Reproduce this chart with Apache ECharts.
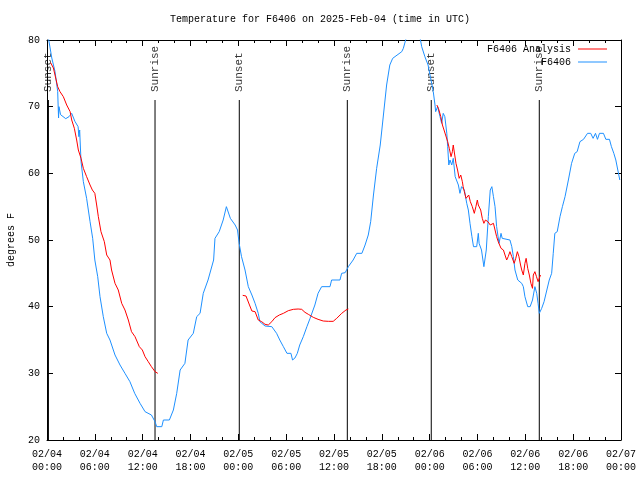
<!DOCTYPE html>
<html>
<head>
<meta charset="utf-8">
<script src="https://cdn.jsdelivr.net/npm/echarts@6/dist/echarts.min.js"></script>
<style>html,body{margin:0;padding:0;background:#fff;}#c{width:640px;height:480px;}</style>
</head>
<body>
<div id="c"></div>
<script>
// Hours since 2025-02-04 00:00 UTC
var obsHours = [0.15,0.6,1.0,1.34,1.45,1.5,1.7,2.35,2.76,3.1,3.5,3.9,4.0,4.1,4.15,4.27,4.56,4.97,5.4,5.73,6.0,6.36,6.65,7.06,7.49,7.9,8.53,9.16,9.78,10.4,11.0,11.67,12.3,13.1,13.55,13.76,14.4,14.6,15.35,15.85,16.27,16.7,17.3,17.7,18.35,18.78,19.2,19.6,20.2,20.9,21.07,21.6,22.1,22.5,22.7,23.0,23.6,23.9,24.1,24.4,24.84,25.25,25.7,26.1,26.5,26.7,27.35,28.2,28.8,29.2,29.65,30.1,30.6,30.8,31.1,31.4,31.7,32.15,32.6,33.0,33.6,34.0,34.45,35.5,35.7,36.75,36.96,37.4,37.8,38.4,38.85,39.5,39.9,40.3,40.6,40.95,41.35,41.8,42.2,42.6,43.0,43.36,44.5,44.7,45.1,45.6,46.3,46.8,47.0,47.4,47.8,48.25,48.45,48.67,48.75,49.0,49.3,49.5,49.7,49.9,50.15,50.26,50.4,50.55,50.77,50.96,51.2,51.6,51.8,52.0,52.35,52.65,52.85,53.06,53.3,53.5,53.9,54.1,54.2,54.5,54.8,55.1,55.36,55.6,55.8,56.0,56.2,56.4,56.7,56.95,57.1,58.07,58.3,58.5,58.7,59.05,59.55,59.75,59.95,60.3,60.6,60.9,61.2,61.43,61.6,61.75,61.85,62.05,62.35,62.7,63.0,63.3,63.5,63.7,64.0,64.35,64.65,64.98,65.4,65.8,66.2,66.5,66.85,67.3,67.8,68.2,68.5,68.8,69.05,69.3,69.8,70.1,70.55,70.8,71.1,71.35,71.6,71.85];
var obsTemps = [80.5,77.3,75.3,72.3,68.3,70,68.8,68.2,68.5,69,67.8,67,65.5,66.5,65,61.75,58.75,56.25,52.75,50.25,47,44.5,41.5,38.5,36,35,32.75,31.25,30,28.75,27,25.5,24.25,23.75,22.75,22,22,23,23,24.5,27,30.5,31.5,35,36,38.5,39,42,44,47,50.25,51.25,53,55,55,53.25,52.25,51.5,49.5,47.5,45.5,43,41.75,40.5,39,37.75,37.1,37,36,35,34,33,33,32,32.3,33,34.25,35.5,37,38.25,40.25,42,43,43,44,44,45,45.1,46,47,48,48,49.25,50.75,52.75,56.75,60.75,64.25,68.75,73.25,76.25,77.25,78.25,78.75,80.5,81.5,81.5,80.3,79,77.5,76.25,73.5,72.25,70.25,69.25,70,68.5,67.5,69,68.5,66,64,61.25,62,61.25,62.25,59.5,58.25,57,58,57.5,55.5,54.5,52.5,50.5,49,49,51,49.5,48.5,46,48.5,53.5,57.5,58,56.5,55,52,49.5,51,50.25,50,49,47.5,45.5,44,43.5,43,41.5,40,40,41,43,42,40.5,39,38.7,39.75,40.75,42.5,44,45,48,51,51.25,53.5,55,56.5,59,61.5,63,63.25,64.75,65.1,66,66,65.25,66,65.1,66,66,65.1,65.1,64,63,62,60.5,59];

// Analysis series (null = gap)
var anaHours = [0.45,0.8,1.0,1.34,1.63,2.05,2.47,2.9,3.1,3.43,3.72,3.93,4.27,4.56,4.97,5.4,5.69,6.0,6.23,6.44,6.77,7.19,7.49,7.9,8.1,8.53,8.94,9.37,9.78,10.2,10.6,11.04,11.58,11.96,12.3,12.7,13.1,13.55,13.9,
  19.0,
  24.55,24.96,25.4,25.7,26.1,26.5,26.93,27.35,27.76,28.2,28.6,29.14,29.65,30.27,30.9,31.5,31.95,32.36,32.78,33.4,34.0,34.65,35.3,35.9,36.34,36.97,37.5,37.8,
  43.0,
  48.9,49.1,49.4,49.6,49.8,50.05,50.26,50.46,50.68,50.85,50.96,51.05,51.3,51.5,51.7,51.9,52.1,52.2,52.35,52.56,52.7,52.9,53.1,53.35,53.6,53.8,53.98,54.1,54.4,54.6,54.8,55.0,55.3,55.6,55.8,56.0,56.2,56.4,56.6,56.95,57.25,57.45,57.66,57.85,58.07,58.3,58.6,58.8,59.0,59.2,59.4,59.55,59.75,59.95,60.1,60.3,60.5,60.7,60.9,61.0,61.2,61.4,61.6,61.75,61.9];
var anaTemps = [76.6,75.8,75.5,73,72.25,71.5,70.25,69.25,68,66.75,65,63.5,62.25,60.75,59.5,58.25,57.5,57,55.25,53.5,51.25,49.75,47.75,47,45.5,43.5,42.5,40.5,39.5,38,36.25,35.5,34,33.5,32.5,31.75,31,30.25,30,
  null,
  41.7,41.6,40.25,39.35,39.25,38,37.75,37.35,37.25,37.75,38.35,38.75,39,39.4,39.6,39.65,39.6,39.15,38.85,38.4,38.1,37.85,37.8,37.8,38.25,39,39.5,39.65,
  null,
  70.25,69.75,68.5,67.25,66.5,66.25,64.75,63.75,62.5,63.25,64.25,63.5,61.5,60.5,59.25,59.75,58.75,58,57.25,56.25,56.5,56.75,55.75,55,54,55,56,55.25,54.5,53.25,52.5,53,52.75,52.25,52,52.5,51.5,50.5,49.75,48.75,48.5,47.75,47,47.5,48.25,47.5,46.5,47.25,48.25,47.5,46.25,45.5,44.75,46.5,47.25,45.75,44.75,43.5,42.75,44.75,45.25,44.5,43.75,43.5,44.75];

var sunHours = [0.18,13.55,24.12,37.67,48.2,61.75];
var sunNames = ['Sunset','Sunrise','Sunset','Sunrise','Sunset','Sunrise'];
var sunLineTop = 71, sunLineBottom = 20;

var xTickStep = 6;
var yTicks = [20,30,40,50,60,70,80];

var seriesNames = ['F6406 Analysis','F6406'];
var titleText = 'Temperature for F6406 on 2025-Feb-04 (time in UTC)';
var yTitle = 'degrees F';

var FONT = 'Liberation Mono';

function pad(n){return (n<10?'0':'')+n;}
function xLabel(v){
  var day = 4 + Math.floor(v/24);
  var hh = Math.round(v - Math.floor(v/24)*24);
  return '02/' + pad(day) + '\n' + pad(hh) + ':00';
}

var obsData = obsHours.map(function(h,i){return [h, obsTemps[i]];});
var anaData = anaHours.map(function(h,i){return [h, anaTemps[i]===null?'-':anaTemps[i]];});
var sunLineData = [];
sunHours.forEach(function(h){ sunLineData.push([h,sunLineBottom]); sunLineData.push([h,sunLineTop]); sunLineData.push([h,'-']); });
var sunLabelData = sunHours.map(function(h,i){return {value:[h,sunLineTop], name:sunNames[i]};});

var axisCommon = {
  axisLine:{show:true, onZero:false, lineStyle:{color:'#000', width:1}},
  splitLine:{show:false}
};

function legendFor(name, top){
  return {data:[{name:name, icon:'rect'}], right:28, top:top, orient:'vertical', align:'right',
    itemWidth:29, itemHeight:1, itemGap:3,
    textStyle:{fontFamily:FONT, fontSize:10, color:'#000', padding:[0,2,0,0]}};
}

var chart = echarts.init(document.getElementById('c'), null, {renderer:'canvas'});
chart.setOption({
  animation:false,
  backgroundColor:'#fff',
  title:{text:titleText, left:'center', top:9, textStyle:{fontFamily:FONT, fontSize:10, fontWeight:'normal', color:'#000'}},
  grid:{left:47, right:19, top:40, bottom:40, outerBoundsMode:'none', containLabel:false},
  legend:[legendFor(seriesNames[0], 39), legendFor(seriesNames[1], 52)],
  xAxis:[
    Object.assign({type:'value', min:0, max:72, interval:xTickStep, position:'bottom',
      axisTick:{show:true, inside:true, length:6, lineStyle:{color:'#000'}},
      minorTick:{show:true, splitNumber:3, length:3, lineStyle:{color:'#000'}},
      axisLabel:{show:true, margin:8, formatter:xLabel, fontFamily:FONT, fontSize:10, color:'#000', lineHeight:13}
    }, axisCommon),
    Object.assign({type:'value', min:0, max:72, interval:xTickStep, position:'top',
      axisTick:{show:true, inside:true, length:6, lineStyle:{color:'#000'}},
      minorTick:{show:true, splitNumber:3, length:3, lineStyle:{color:'#000'}},
      axisLabel:{show:false}
    }, axisCommon)
  ],
  yAxis:[
    Object.assign({type:'value', min:yTicks[0], max:yTicks[yTicks.length-1], interval:10, position:'left',
      name:yTitle, nameLocation:'middle', nameGap:31, nameRotate:90,
      nameTextStyle:{fontFamily:FONT, fontSize:10, color:'#000'},
      axisTick:{show:true, inside:true, length:6, lineStyle:{color:'#000'}},
      axisLabel:{show:true, margin:7, fontFamily:FONT, fontSize:10, color:'#000'}
    }, axisCommon),
    Object.assign({type:'value', min:yTicks[0], max:yTicks[yTicks.length-1], interval:10, position:'right',
      axisTick:{show:true, inside:true, length:6, lineStyle:{color:'#000'}},
      axisLabel:{show:false}
    }, axisCommon)
  ],
  series:[
    {name:'sun', type:'line', data:sunLineData, symbol:'none', connectNulls:false,
     lineStyle:{color:'#000', width:1}, z:1, silent:true},
    {name:'sunlabels', type:'scatter', data:sunLabelData, symbolSize:0, z:1, silent:true,
     label:{show:true, formatter:function(p){return p.name;}, position:'top', distance:8, rotate:90,
       align:'left', verticalAlign:'middle', fontFamily:FONT, fontSize:11, color:'#000'}},
    {name:seriesNames[0], type:'line', data:anaData, symbol:'none', connectNulls:false,
     lineStyle:{color:'#ff0000', width:1}, itemStyle:{color:'#ff0000'}, z:3},
    {name:seriesNames[1], type:'line', data:obsData, symbol:'none',
     lineStyle:{color:'#1e90ff', width:1}, itemStyle:{color:'#1e90ff'}, z:2}
  ]
});
</script>
</body>
</html>
